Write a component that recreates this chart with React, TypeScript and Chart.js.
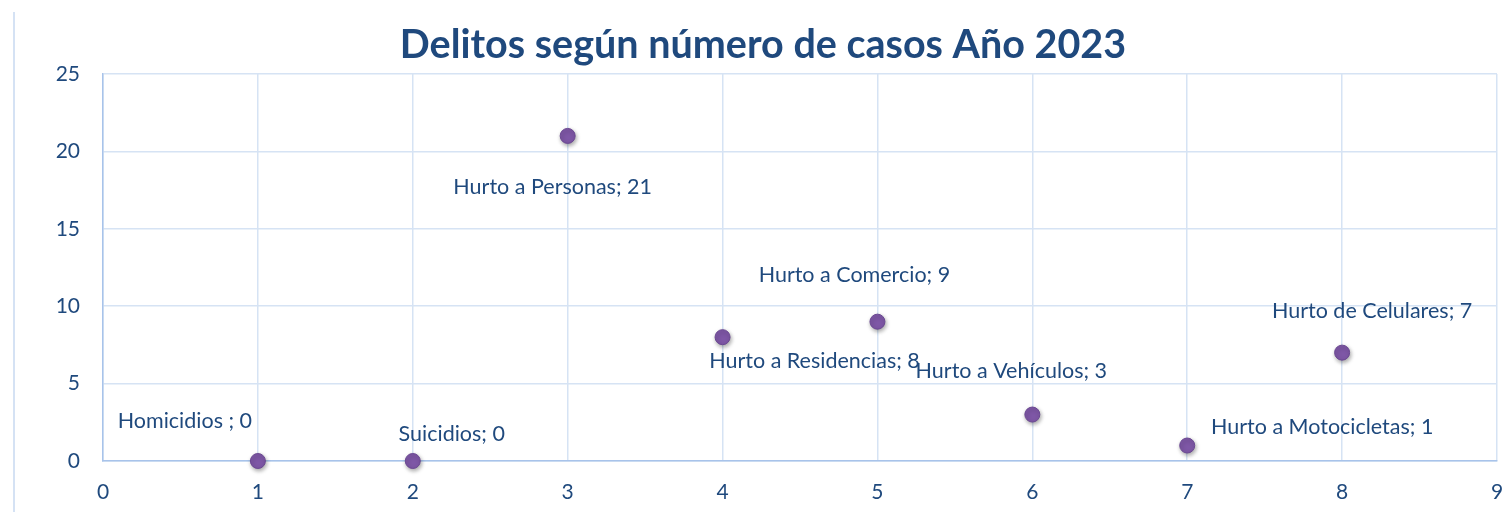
import React, { useEffect, useRef } from "react";
import { Chart, registerables } from "chart.js";

Chart.register(...registerables);

const categories = [
  "Homicidios ",
  "Suicidios",
  "Hurto a Personas",
  "Hurto a Residencias",
  "Hurto a Comercio",
  "Hurto a Vehículos",
  "Hurto a Motocicletas",
  "Hurto de Celulares",
];
const xValues = [1, 2, 3, 4, 5, 6, 7, 8];
const cases = [0, 0, 21, 8, 9, 3, 1, 7];
const xTicks = [0, 1, 2, 3, 4, 5, 6, 7, 8, 9];
const yTicks = [0, 5, 10, 15, 20, 25];

// label offsets (px) of label centre relative to the point
const labelOffsets: [number, number][] = [
  [-73, -40],
  [39, -27],
  [-15, 51],
  [92, 24],
  [-23, -47],
  [-21, -43],
  [135, -18],
  [30, -42],
];

const FONT = "Lato, 'Open Sans', sans-serif";
const TEXT = "#1F497D";

const decorPlugin = {
  id: "decor",
  beforeDatasetsDraw(chart: any) {
    const ctx = chart.ctx;
    ctx.save();
    ctx.shadowColor = "rgba(0,0,0,0.35)";
    ctx.shadowBlur = 4;
    ctx.shadowOffsetX = 1;
    ctx.shadowOffsetY = 2;
  },
  afterDatasetsDraw(chart: any) {
    const ctx = chart.ctx;
    ctx.restore();
    const meta = chart.getDatasetMeta(0);
    ctx.save();
    ctx.font = `21.5px ${FONT}`;
    ctx.fillStyle = TEXT;
    ctx.textAlign = "center";
    ctx.textBaseline = "middle";
    meta.data.forEach((pt: any, i: number) => {
      const [dx, dy] = labelOffsets[i];
      ctx.fillText(`${categories[i]}; ${cases[i]}`, pt.x + dx, pt.y + dy);
    });
    ctx.restore();
  },
  afterDraw(chart: any) {
    const ctx = chart.ctx;
    ctx.save();
    ctx.strokeStyle = "#D5E2F4";
    ctx.lineWidth = 2;
    ctx.beginPath();
    ctx.moveTo(14, 12);
    ctx.lineTo(14, 512);
    ctx.stroke();
    ctx.font = `bold 39.5px ${FONT}`;
    ctx.fillStyle = TEXT;
    ctx.textAlign = "center";
    ctx.textBaseline = "middle";
    ctx.fillText("Delitos según número de casos Año 2023", 763, 45);
    ctx.restore();
  },
};

export default function App() {
  const ref = useRef<HTMLCanvasElement>(null);
  useEffect(() => {
    if (!ref.current) return;
    const chart = new Chart(ref.current, {
      type: "scatter",
      data: {
        datasets: [
          {
            label: "Casos",
            data: xValues.map((x, i) => ({ x, y: cases[i] })),
            backgroundColor: "#7E57A6",
            borderColor: "#6B4892",
            borderWidth: 1,
            pointRadius: 7.5,
            pointHoverRadius: 7.5,
            clip: false,
          },
        ],
      },
      options: {
        animation: false,
        responsive: false,
        layout: { padding: { left: 0, right: 9, top: 74, bottom: 0 } },
        plugins: { legend: { display: false }, tooltip: { enabled: false }, title: { display: false } },
        scales: {
          x: {
            type: "linear",
            min: 0,
            max: 9,
            afterBuildTicks: (s: any) => {
              s.ticks = xTicks.map((v) => ({ value: v }));
            },
            afterFit: (s: any) => {
              s.height = 51;
              s.paddingLeft = 0;
              s.paddingRight = 0;
            },
            grid: { color: "#D6E3F4", lineWidth: 1.5, drawTicks: false },
            border: { color: "#A8C3EA", width: 1.5 },
            ticks: { color: TEXT, font: { family: FONT, size: 21 }, padding: 19, maxRotation: 0 },
          },
          y: {
            type: "linear",
            min: 0,
            max: 25,
            afterBuildTicks: (s: any) => {
              s.ticks = yTicks.map((v) => ({ value: v }));
            },
            afterFit: (s: any) => {
              s.width = 103;
              s.paddingTop = 0;
              s.paddingBottom = 0;
            },
            grid: { color: "#D6E3F4", lineWidth: 1.5, drawTicks: false },
            border: { color: "#A8C3EA", width: 1.5 },
            ticks: { color: TEXT, font: { family: FONT, size: 21 }, padding: 23 },
          },
        },
      },
      plugins: [decorPlugin],
    });
    return () => chart.destroy();
  }, []);
  return (
    <div style={{ position: "fixed", left: 0, top: 0, width: 1506, height: 512, background: "#fff" }}>
      <canvas ref={ref} width={1506} height={512} style={{ display: "block" }} />
    </div>
  );
}
